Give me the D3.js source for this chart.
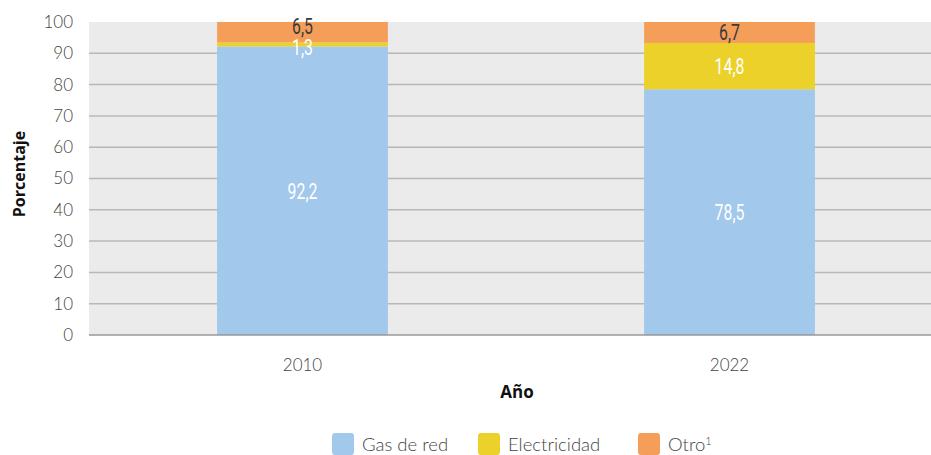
<!DOCTYPE html>
<html>
<head>
<meta charset="utf-8">
<script src="https://d3js.org/d3.v7.min.js"></script>
<style>
  body { margin: 0; background: #fff; }
  svg text { font-family: Lato, "Open Sans", sans-serif; }
</style>
</head>
<body>
<div id="viz"></div>
<script>
let years = ['2010', '2022'];
let gasDeRed = [92.2, 78.5];
let electricidad = [1.3, 14.8];
let otro = [6.5, 6.7];
let seriesNames = ['Gas de red', 'Electricidad', 'Otro'];
let yTicks = [0, 10, 20, 30, 40, 50, 60, 70, 80, 90, 100];

let width = 931, height = 455;
let colors = { 'Gas de red': '#a2c8eb', 'Electricidad': '#ecd12a', 'Otro': '#f59e5a' };
let labelColors = { 'Gas de red': '#fff', 'Electricidad': '#fff', 'Otro': '#3a3a3a' };

let rows = years.map((y, i) => ({ year: y, 'Gas de red': gasDeRed[i], 'Electricidad': electricidad[i], 'Otro': otro[i] }));

let svg = d3.select('#viz').append('svg')
    .attr('width', width)
    .attr('height', height);

let plotLeft = 89, plotTop = 22, plotBottom = 335;

let x = d3.scaleBand()
    .domain(years)
    .range([plotLeft, 943])
    .paddingInner(0.6)
    .paddingOuter(0.3);

let y = d3.scaleLinear()
    .domain([0, 100])
    .range([plotBottom, plotTop]);

// plot background
svg.append('rect')
    .attr('x', plotLeft).attr('y', y(100))
    .attr('width', width - plotLeft).attr('height', y(0) - y(100))
    .style('fill', '#ebebeb');

// gridlines
svg.append('g').selectAll('line')
    .data(yTicks.filter(d => d > 0 && d < 100))
    .enter().append('line')
    .attr('x1', plotLeft).attr('x2', width)
    .attr('y1', d => y(d)).attr('y2', d => y(d))
    .style('stroke', '#b8b8b8').style('stroke-width', 1.5);

// y axis labels
let yAxis = svg.append('g')
    .attr('transform', `translate(${plotLeft},0)`)
    .call(d3.axisLeft(y).tickValues(yTicks).tickSize(0).tickPadding(16));
yAxis.select('.domain').remove();
yAxis.selectAll('text')
    .style('font-size', '17px')
    .style('fill', '#444')
    .style('font-weight', 300);

// stacked bars
let stack = d3.stack().keys(seriesNames)(rows);

let layers = svg.append('g').selectAll('g')
    .data(stack)
    .enter().append('g')
    .style('fill', d => colors[d.key]);

layers.selectAll('rect')
    .data(d => d)
    .enter().append('rect')
    .attr('x', d => x(d.data.year))
    .attr('y', d => y(d[1]))
    .attr('width', x.bandwidth())
    .attr('height', d => y(d[0]) - y(d[1]));

// baseline
svg.append('line')
    .attr('x1', plotLeft).attr('x2', width)
    .attr('y1', y(0)).attr('y2', y(0))
    .style('stroke', '#999').style('stroke-width', 1.5);

// value labels (condensed look), nudged apart when segments are thin
years.forEach(year => {
    let labs = stack.map(s => {
        let d = s.find(v => v.data.year === year);
        return { key: s.key, val: d.data[s.key], cy: y((d[0] + d[1]) / 2) };
    });
    for (let i = labs.length - 1; i > 0; i--) {
        let gap = labs[i - 1].cy - labs[i].cy;
        if (gap < 21) {
            let shift = 21 - gap;
            labs[i].cy -= shift * 0.75;
            labs[i - 1].cy += shift * 0.25;
        }
    }
    let cx = x(year) + x.bandwidth() / 2;
    svg.append('g').selectAll('text')
        .data(labs)
        .enter().append('text')
        .attr('transform', d => `translate(${cx},${d.cy}) scale(0.72,1)`)
        .attr('dy', '0.36em')
        .attr('text-anchor', 'middle')
        .style('font-family', 'Roboto, sans-serif')
        .style('font-size', '22px')
        .style('fill', d => labelColors[d.key])
        .text(d => String(d.val).replace('.', ','));
});

// x axis labels
let xAxis = svg.append('g')
    .attr('transform', `translate(0,${plotBottom})`)
    .call(d3.axisBottom(x).tickSize(0).tickPadding(24));
xAxis.select('.domain').remove();
xAxis.selectAll('text')
    .style('font-size', '17px')
    .style('fill', '#444')
    .style('font-weight', 300);

// axis titles
svg.append('text')
    .attr('x', 517).attr('y', 398)
    .attr('text-anchor', 'middle')
    .style('font-family', '"Open Sans", sans-serif')
    .style('font-size', '17px').style('font-weight', 'bold').style('fill', '#111')
    .text('Año');

svg.append('text')
    .attr('transform', `translate(25,174) rotate(-90)`)
    .attr('text-anchor', 'middle')
    .style('font-family', '"Open Sans", sans-serif')
    .style('font-size', '16px').style('font-weight', 'bold').style('fill', '#111')
    .text('Porcentaje');

// legend
let legendX = [332, 478, 638];
let legend = svg.append('g').selectAll('g')
    .data(seriesNames)
    .enter().append('g')
    .attr('transform', (d, i) => `translate(${legendX[i]},433)`);
legend.append('rect')
    .attr('width', 22).attr('height', 22).attr('rx', 3)
    .style('fill', d => colors[d]);
let lt = legend.append('text')
    .attr('x', 30).attr('y', 18)
    .style('font-size', '18.5px').style('fill', '#444').style('font-weight', 300);
lt.append('tspan').text(d => d);
lt.filter(d => d === 'Otro').append('tspan')
    .attr('dy', -6).style('font-size', '11px').text('1');
</script>
</body>
</html>
